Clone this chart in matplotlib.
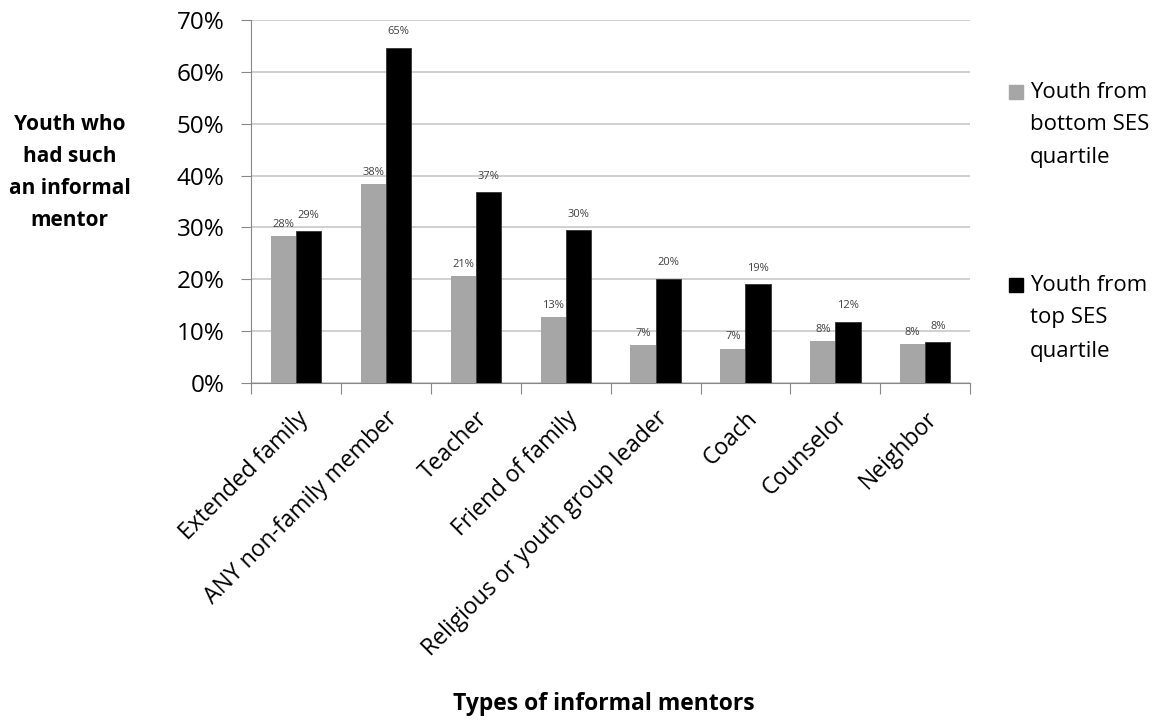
import numpy as np
import matplotlib
matplotlib.use("Agg")
import matplotlib.pyplot as plt
from matplotlib.patches import Rectangle

categories = ["Extended family", "ANY non-family member", "Teacher", "Friend of family",
              "Religious or youth group leader", "Coach", "Counselor", "Neighbor"]
bottom_ses = [28.3, 38.3, 20.6, 12.7, 7.3, 6.6, 8.1, 7.5]
top_ses = [29.3, 64.7, 36.8, 29.5, 20.1, 19.1, 11.8, 7.9]
bottom_labels = ["28%", "38%", "21%", "13%", "7%", "7%", "8%", "8%"]
top_labels = ["29%", "65%", "37%", "30%", "20%", "19%", "12%", "8%"]
series_names = ["Youth from\nbottom SES\nquartile", "Youth from\ntop SES\nquartile"]

plt.rcParams["font.family"] = ["Open Sans", "DejaVu Sans"]

fig = plt.figure(figsize=(11.62, 7.21), dpi=100)
ax = fig.add_axes([0.216, 0.469, 0.619, 0.503])

x = np.arange(len(categories))
w = 0.28
gray = "#a6a6a6"
ax.bar(x - w / 2, bottom_ses, w, color=gray, zorder=3)
ax.bar(x + w / 2, top_ses, w, color="black", edgecolor="#333333", linewidth=0.6, zorder=3)

for xi, v, s in zip(x, bottom_ses, bottom_labels):
    ax.text(xi - w / 2, v + 1.2, s, ha="center", va="bottom", fontsize=8, color="#404040")
for xi, v, s in zip(x, top_ses, top_labels):
    ax.text(xi + w / 2, v + 2.0, s, ha="center", va="bottom", fontsize=8, color="#404040")

ax.set_xlim(-0.5, len(categories) - 0.5)
ax.set_ylim(0, 70)
ax.set_yticks(np.arange(0, 71, 10))
ax.set_yticklabels([f"{t}%" for t in range(0, 71, 10)], fontsize=17.5)
ax.yaxis.grid(True, color="#c8c8c8", linewidth=1.2, zorder=0)
ax.set_axisbelow(True)

ax.set_xticks(np.arange(-0.5, len(categories), 1.0), minor=False)
ax.set_xticklabels([])
ax.set_xticks(x, minor=True)
ax.set_xticklabels(categories, minor=True, rotation=45, ha="right",
                   rotation_mode="anchor", fontsize=16.5)
ax.tick_params(axis="x", which="major", length=8, color="#888888")
ax.tick_params(axis="x", which="minor", length=0, pad=17)
ax.tick_params(axis="y", length=7, color="#888888", pad=12)

for s in ["top", "right"]:
    ax.spines[s].set_visible(False)
ax.spines["left"].set_color("#888888")
ax.spines["bottom"].set_color("#888888")

fig.text(0.06, 0.761, "Youth who\nhad such\nan informal\nmentor", ha="center", va="center",
         fontsize=15, fontweight="bold", linespacing=1.7)
fig.text(0.52, 0.023, "Types of informal mentors", ha="center", va="center",
         fontsize=16.5, fontweight="bold")

# legend drawn by hand so the square sits on the first text line (Excel style)
W, H = fig.get_size_inches() * fig.dpi
for name, col, y_first in zip(series_names, [gray, "black"], [92, 285]):
    fy = 1 - y_first / H
    fig.patches.append(Rectangle((1009 / W, fy - 7 / H), 14 / W, 14 / H,
                                 transform=fig.transFigure, color=col))
    fig.text(1030 / W, fy, name.split("\n")[0], ha="left", va="center", fontsize=16)
    for i, line in enumerate(name.split("\n")[1:], start=1):
        fig.text(1030 / W, 1 - (y_first + 33 * i) / H, line, ha="left", va="center",
                 fontsize=16)

fig.savefig("out.png", dpi=100)
